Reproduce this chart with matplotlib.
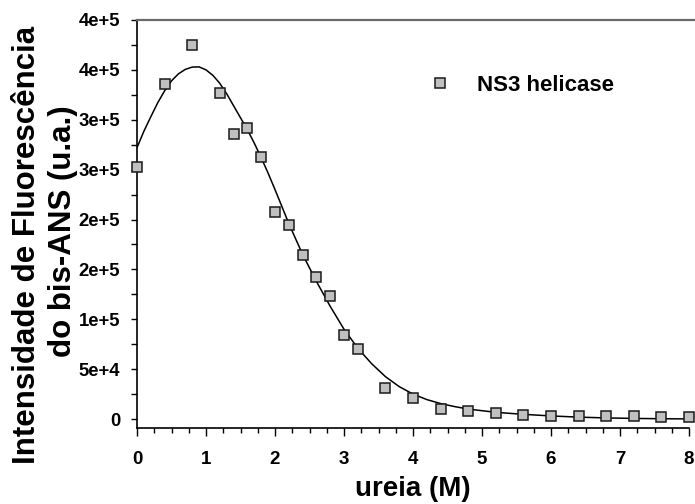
import matplotlib
matplotlib.use("Agg")
import matplotlib.pyplot as plt
from matplotlib.lines import Line2D
from matplotlib.ticker import MultipleLocator, FixedLocator

plt.rcParams['font.family'] = ['Liberation Sans', 'DejaVu Sans']
plt.rcParams['font.weight'] = 'bold'

# measured points
urea = [0.0, 0.4, 0.8, 1.2, 1.4, 1.6, 1.8, 2.0, 2.2, 2.4, 2.6, 2.8, 3.0, 3.2,
        3.6, 4.0, 4.4, 4.8, 5.2, 5.6, 6.0, 6.4, 6.8, 7.2, 7.6, 8.0]
fluor = [252700, 335700, 374700, 327000, 285700, 291300, 262300, 207300,
         194700, 164300, 142500, 123500, 84200, 70500, 31500, 21300, 10500,
         8200, 5700, 4500, 3200, 2600, 2800, 2700, 2500, 2200]

# fitted curve
fit_x = [0.0, 0.1, 0.2, 0.3, 0.4, 0.5, 0.6, 0.7, 0.8, 0.9, 1.0, 1.1, 1.2, 1.3,
         1.4, 1.5, 1.6, 1.7, 1.8, 1.9, 2.0, 2.2, 2.4, 2.6, 2.8, 3.0, 3.2, 3.4,
         3.6, 3.8, 4.0, 4.2, 4.4, 4.6, 4.8, 5.2, 5.6, 6.0, 6.4, 6.8, 7.2, 7.6, 8.0]
fit_y = [272000, 288500, 303000, 317000, 329000, 339000, 346000, 350500,
         352800, 353000, 350000, 344500, 336500, 326000, 314000, 302000,
         290000, 276500, 262000, 246500, 230000, 196000, 165000, 138000,
         113000, 90000, 71000, 55500, 42500, 32500, 25000, 19500, 15500,
         12500, 10000, 6700, 4700, 3100, 1900, 1100, 600, 300, 100]

yticks = [0, 50000, 100000, 150000, 200000, 250000, 300000, 350000, 400000]
ytick_labels = ['0', '5e+4', '1e+5', '2e+5', '2e+5', '3e+5', '3e+5', '4e+5', '4e+5']
xticks = [0, 1, 2, 3, 4, 5, 6, 7, 8]

W, H = 695, 504
fig = plt.figure(figsize=(W / 100, H / 100), dpi=100)
L, R, T, B = 137, 689, 20, 428
ax = fig.add_axes([L / W, 1 - B / H, (R - L) / W, (B - T) / H])

ax.plot(fit_x, fit_y, color='black', lw=1.1, zorder=2)
ax.plot(urea, fluor, linestyle='none', marker='s', markersize=7.3,
        markerfacecolor='#c0c0c0', markeredgecolor='#1a1a1a',
        markeredgewidth=1.1, clip_on=False, zorder=3, label='NS3 helicase')

ax.set_xlim(0, 8)
ax.set_ylim(-9000, 400000)
ax.set_xticks(xticks)
ax.set_xticklabels([str(v) for v in xticks])
ax.xaxis.set_minor_locator(MultipleLocator(0.25))
ax.yaxis.set_major_locator(FixedLocator(yticks))
ax.set_yticklabels(ytick_labels)
ax.yaxis.set_minor_locator(MultipleLocator(25000))

ax.tick_params(axis='x', which='major', direction='out', length=5.5, width=1,
               pad=11, labelsize=13.5)
ax.tick_params(axis='x', which='minor', direction='out', length=3.5, width=1)
ax.tick_params(axis='y', which='both', direction='out', length=4, width=1,
               pad=8, labelsize=13.3)
for lab in ax.get_xticklabels() + ax.get_yticklabels():
    lab.set_fontweight('bold')

for s in ['top', 'right']:
    ax.spines[s].set_visible(False)
for s in ['left', 'bottom']:
    ax.spines[s].set_linewidth(1.2)
    ax.spines[s].set_color('black')

# top frame line (grey, extends to figure edge)
fig.add_artist(Line2D([L / W, 1.0], [1 - T / H, 1 - T / H], color='#6a6a6a',
                      lw=1.6, transform=fig.transFigure))

ax.set_xlabel('ureia (M)', fontsize=20, fontweight='bold', labelpad=6)
fig.text(27 / W, 1 - 245 / H, 'Intensidade de Fluorescência', rotation=90,
         ha='center', va='center', fontsize=22.5, fontweight='bold')
fig.text(63 / W, 1 - 231 / H, 'do bis-ANS (u.a.)', rotation=90,
         ha='center', va='center', fontsize=22.5, fontweight='bold')

leg = ax.legend(loc='center left', bbox_to_anchor=(418 / W, 1 - 85 / H),
                bbox_transform=fig.transFigure, frameon=False, markerscale=0.9,
                handlelength=1.0, handletextpad=1.15, borderpad=0,
                prop={'size': 16, 'weight': 'bold'})

fig.savefig('out.png', dpi=100)
